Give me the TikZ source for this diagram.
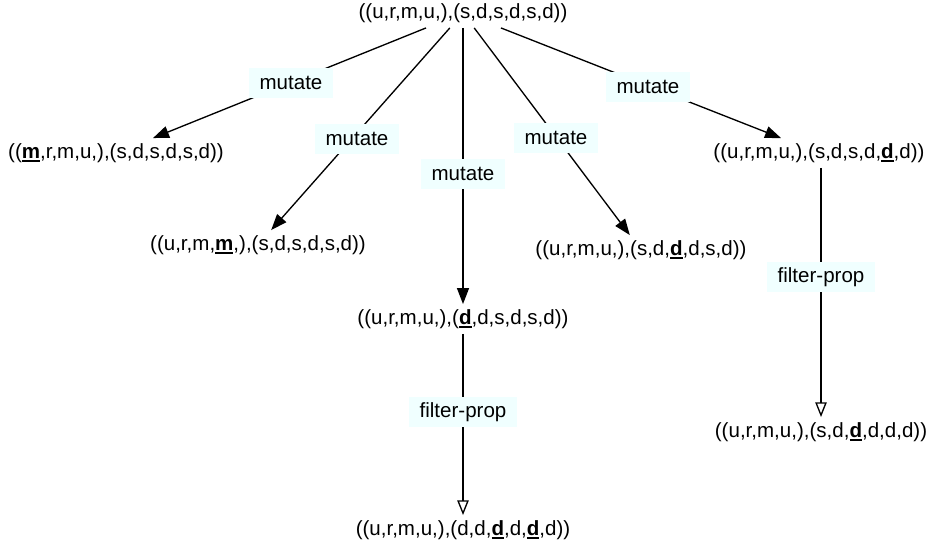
\documentclass[tikz,border=0pt]{standalone}
\usepackage{fontspec}
\setmainfont{Liberation Sans}
\usetikzlibrary{arrows.meta}
\definecolor{labelfill}{HTML}{F0FFFF}
% bold letter with a heavy underline
\newcommand\ulb[1]{\setbox0\hbox{\textbf{#1}}\rlap{\rule[-2.4pt]{\wd0}{1.2pt}}\box0}
\begin{document}
\begin{tikzpicture}[x=0.75pt,y=-0.75pt,
  state/.style={inner xsep=2pt, inner ysep=0pt, minimum height=22pt,
    font=\fontsize{15.4}{18}\selectfont},
  lbl/.style={fill=labelfill, inner xsep=8pt, inner ysep=0pt, minimum height=23pt,
    font=\fontsize{15.4}{18}\selectfont},
  mut/.style={-{Triangle[length=12pt,width=9pt]}, line width=1pt},
  filt/.style={-{Triangle[open,length=11pt,width=8.5pt,fill=white]}, line width=1pt}]
\useasboundingbox (0,0) rectangle (930,548);

% states
\node[state] (r)  at (463,13)  {((u,r,m,u,),(s,d,s,d,s,d))};
\node[state] (n1) at (116,153) {((\ulb{m},r,m,u,),(s,d,s,d,s,d))};
\node[state] (n2) at (258,245) {((u,r,m,\ulb{m},),(s,d,s,d,s,d))};
\node[state] (n3) at (463,319) {((u,r,m,u,),(\ulb{d},d,s,d,s,d))};
\node[state] (n4) at (641,250) {((u,r,m,u,),(s,d,\ulb{d},d,s,d))};
\node[state] (n5) at (819,153) {((u,r,m,u,),(s,d,s,d,\ulb{d},d))};
\node[state] (n6) at (463,530) {((u,r,m,u,),(d,d,\ulb{d},d,\ulb{d},d))};
\node[state] (n7) at (821,432) {((u,r,m,u,),(s,d,\ulb{d},d,d,d))};

% transitions
\draw[mut] (r) -- (n1);
\draw[mut] (r) -- (n2);
\draw[mut] (r) -- (n3);
\draw[mut] (r) -- (n4);
\draw[mut] (r) -- (n5);
\draw[filt] (n3) -- (n6);
\draw[filt] (n5.south -| n7) -- (n7);

% transition labels
\node[lbl] (l1) at (291,83)  {mutate};
\node[lbl] (l2) at (357,139) {mutate};
\node[lbl] (l3) at (463,174) {mutate};
\node[lbl] (l4) at (556,138) {mutate};
\node[lbl] (l5) at (648,87)  {mutate};
\node[lbl] (l6) at (463,412) {filter-prop};
\node[lbl] (l7) at (821,277) {filter-prop};
\end{tikzpicture}
\end{document}
